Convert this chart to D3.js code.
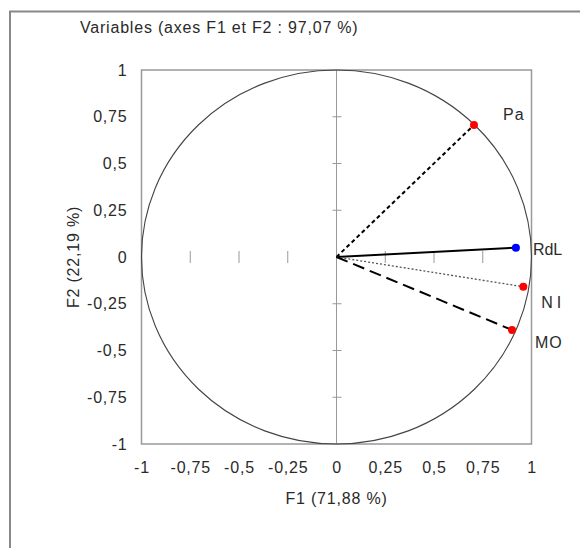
<!DOCTYPE html>
<html><head><meta charset="utf-8">
<script src="https://cdn.jsdelivr.net/npm/d3@7"></script>
<style>
body{margin:0;background:#fff;}
svg text{font-family:"Liberation Sans",Arial,sans-serif;fill:#2a2a2a;}
</style></head>
<body><svg id="c" width="580" height="548"></svg>
<script>
const variables = ["Pa", "RdL", "NI", "MO"];
const f1 = [0.705, 0.920, 0.958, 0.900];
const f2 = [0.706, 0.050, -0.159, -0.390];
const pointColors = ["#ff0000", "#0000ff", "#ff0000", "#ff0000"];
const lineDash = ["4,3", null, "2,2", "12,6"];
const lineWidth = [2, 2, 1.3, 2];
const tickValues = [-1, -0.75, -0.5, -0.25, 0, 0.25, 0.5, 0.75, 1];
const tickLabels = ["-1", "-0,75", "-0,5", "-0,25", "0", "0,25", "0,5", "0,75", "1"];
const innerTicks = [-0.75, -0.5, -0.25, 0.25, 0.5, 0.75];
const title = "Variables (axes F1 et F2 : 97,07 %)";
const xTitle = "F1 (71,88 %)";
const yTitle = "F2 (22,19 %)";

const FS = 16;
const svg = d3.select("#c");
const x = d3.scaleLinear().domain([-1, 1]).range([141.5, 531.5]);
const y = d3.scaleLinear().domain([-1, 1]).range([444, 70]);

// outer frame
svg.append("rect").attr("x", 10).attr("y", 11.5).attr("width", 600).attr("height", 600)
  .attr("fill", "none").attr("stroke", "#888").attr("stroke-width", 2);

// title
svg.append("text").attr("x", 80).attr("y", 33).attr("font-size", FS).attr("letter-spacing", 0.8).text(title);

// plot box
svg.append("rect").attr("x", x(-1)).attr("y", y(1)).attr("width", x(1) - x(-1)).attr("height", y(-1) - y(1))
  .attr("fill", "none").attr("stroke", "#999").attr("stroke-width", 1.5);

// vertical zero line
svg.append("line").attr("x1", x(0)).attr("x2", x(0)).attr("y1", y(1)).attr("y2", y(-1))
  .attr("stroke", "#999").attr("stroke-width", 1);

// ticks on zero lines
svg.selectAll(".vt").data(innerTicks).enter().append("line")
  .attr("x1", x(0) - 4).attr("x2", x(0) + 5).attr("y1", d => y(d)).attr("y2", d => y(d))
  .attr("stroke", "#999").attr("stroke-width", 1);
svg.selectAll(".ht").data(innerTicks).enter().append("line")
  .attr("x1", d => x(d)).attr("x2", d => x(d)).attr("y1", y(0) - 6).attr("y2", y(0) + 6)
  .attr("stroke", "#999").attr("stroke-width", 1);

// correlation circle
svg.append("ellipse").attr("cx", x(0)).attr("cy", y(0))
  .attr("rx", x(1) - x(0)).attr("ry", y(0) - y(1))
  .attr("fill", "none").attr("stroke", "#444").attr("stroke-width", 1.1);

// axes labels (tick text)
const yAxis = d3.axisLeft(y).tickValues(tickValues).tickFormat((d, i) => tickLabels[i]).tickSize(0).tickPadding(14);
const ga = svg.append("g").attr("transform", `translate(${x(-1)},0)`).call(yAxis);
ga.select(".domain").remove();
ga.selectAll("text").attr("font-size", FS).attr("fill", "#2a2a2a").attr("letter-spacing", 0.8)
  .style("font-family", "Liberation Sans, Arial, sans-serif");
const xAxis = d3.axisBottom(x).tickValues(tickValues).tickFormat((d, i) => tickLabels[i]).tickSize(0).tickPadding(18);
const gx = svg.append("g").attr("transform", `translate(0,${y(-1)})`).call(xAxis);
gx.select(".domain").remove();
gx.selectAll("text").attr("font-size", FS).attr("fill", "#2a2a2a").attr("letter-spacing", 0.8)
  .style("font-family", "Liberation Sans, Arial, sans-serif");

// axis titles
svg.append("text").attr("x", x(0)).attr("y", 504).attr("text-anchor", "middle").attr("font-size", FS)
  .attr("letter-spacing", 0.8).text(xTitle);
svg.append("text").attr("transform", `translate(79,${y(0)}) rotate(-90)`).attr("text-anchor", "middle")
  .attr("font-size", FS).attr("letter-spacing", 0.8).text(yTitle);

// vectors
const idx = d3.range(variables.length);
svg.selectAll(".vec").data(idx).enter().append("line")
  .attr("x1", x(0)).attr("y1", y(0))
  .attr("x2", i => x(f1[i])).attr("y2", i => y(f2[i]))
  .attr("stroke", (i) => i === 2 ? "#555" : "#000")
  .attr("stroke-width", i => lineWidth[i])
  .attr("stroke-dasharray", i => lineDash[i]);

svg.selectAll(".pt").data(idx).enter().append("circle")
  .attr("cx", i => x(f1[i])).attr("cy", i => y(f2[i])).attr("r", 4)
  .attr("fill", i => pointColors[i]);

// point labels
const labelDx = [29, 17, 18, 23];
const labelDy = [-5, 7, 21, 18];
const labelSpacing = [1, 0, 4, 1];
svg.selectAll(".lbl").data(idx).enter().append("text")
  .attr("x", i => x(f1[i]) + labelDx[i]).attr("y", i => y(f2[i]) + labelDy[i])
  .attr("font-size", FS).attr("letter-spacing", i => labelSpacing[i])
  .text(i => variables[i]);
</script></body></html>
